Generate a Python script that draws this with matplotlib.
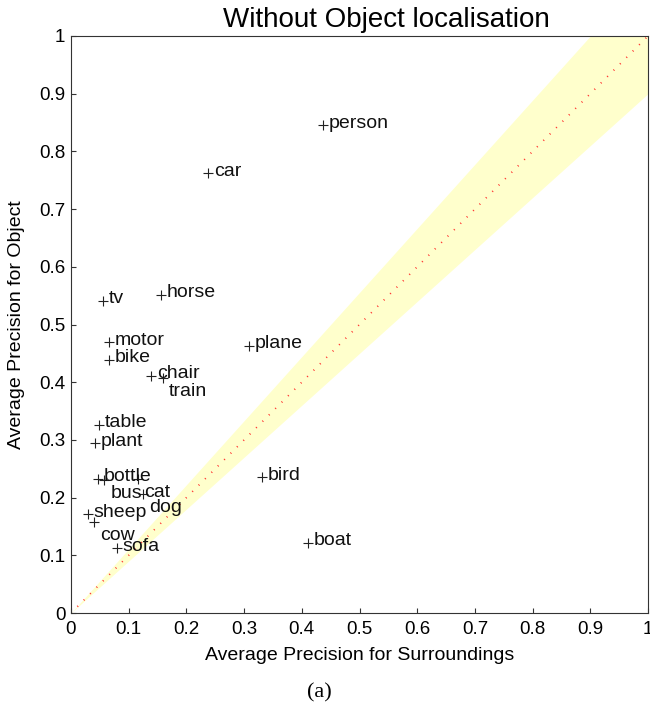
#
# average precision: object vs surroundings, without object localisation
#

import numpy as np
import matplotlib
matplotlib.use("Agg")
import matplotlib.pyplot as plt

plt.rcParams['font.family'] = ['Liberation Sans', 'DejaVu Sans']

classes = ["tv", "horse", "motor", "bike", "chair", "train", "table", "plant",
           "bottle", "bus", "cat", "dog", "sheep", "cow", "sofa",
           "person", "car", "plane", "bird", "boat"]
ap_surround = [0.055, 0.156, 0.066, 0.065, 0.139, 0.160, 0.049, 0.042,
               0.046, 0.058, 0.116, 0.125, 0.029, 0.040, 0.079,
               0.437, 0.238, 0.309, 0.331, 0.411]
ap_object = [0.541, 0.551, 0.469, 0.439, 0.411, 0.407, 0.326, 0.294,
             0.233, 0.231, 0.232, 0.206, 0.171, 0.157, 0.112,
             0.845, 0.762, 0.463, 0.235, 0.121]
# labels moved below their marker to avoid overlaps
shifted = ["train", "bus", "cat", "dog", "cow"]

band_ratio = 0.9
ticks = np.arange(0, 1.01, 0.1)

fig = plt.figure(figsize=(6.5, 7.04), dpi=100)
ax = fig.add_axes([71/650, 1-613/704, 577/650, 577/704])

xs = np.array([0.0, 1.0])
ax.fill_between(xs, band_ratio*xs, xs/band_ratio, color="#ffffcc", lw=0, zorder=1)
ax.plot(xs, xs, color="#ff2020", lw=1.3, linestyle=(0, (0.5, 4.5)), zorder=2)

ax.plot(ap_surround, ap_object, linestyle="none", marker="+", markersize=6.5,
        markeredgewidth=0.8, color="#222222", zorder=3)
for name, x, y in zip(classes, ap_surround, ap_object):
    dy = -0.031 if name in shifted else -0.004
    ax.text(x + 0.01, y + dy, name, fontsize=14, ha="left", va="baseline",
            color="#111111", zorder=4)

ax.set_xlim(0, 1)
ax.set_ylim(0, 1)
ax.set_xticks(ticks)
ax.set_yticks(ticks)
ax.set_xticklabels(["%g" % round(t, 1) for t in ticks])
ax.set_yticklabels(["%g" % round(t, 1) for t in ticks])
ax.tick_params(direction="in", length=3.6, width=0.8, labelsize=13.5, color="#333333")
ax.tick_params(axis="x", pad=6)
ax.tick_params(axis="y", pad=4)
for s in ax.spines.values():
    s.set_linewidth(0.8)
    s.set_color("#333333")

ax.text(0.546, 1.015, "Without Object localisation", fontsize=20,
        ha="center", va="baseline", transform=ax.transAxes)
ax.text(0.5, -0.0815, "Average Precision for Surroundings", fontsize=14,
        ha="center", va="baseline", transform=ax.transAxes)
ax.text(-0.094, 0.5, "Average Precision for Object", fontsize=14, rotation=90,
        ha="center", va="center", transform=ax.transAxes)

fig.text(0.492, 0.0095, "(a)", fontsize=16, ha="center", va="baseline",
         family=["Liberation Serif", "DejaVu Serif"])

fig.savefig("out.png", dpi=100)
